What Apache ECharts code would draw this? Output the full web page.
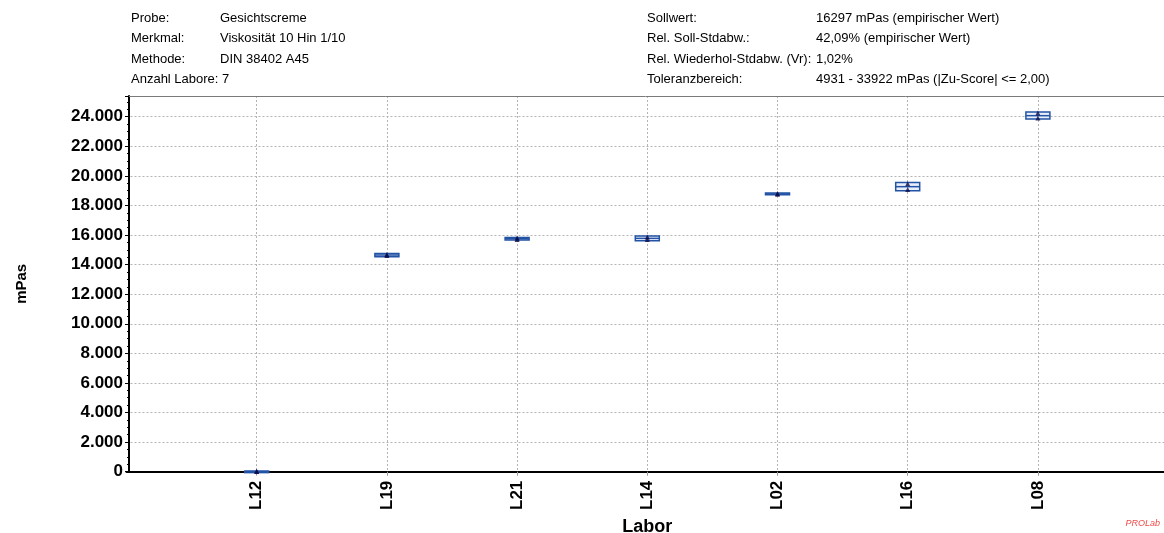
<!DOCTYPE html>
<html>
<head>
<meta charset="utf-8">
<title>Gesichtscreme – Viskosität</title>
<script src="https://cdn.jsdelivr.net/npm/echarts@6/dist/echarts.min.js"></script>
<style>
  html, body { margin: 0; padding: 0; background: #ffffff; }
  #chart { width: 1164px; height: 533px; }
</style>
</head>
<body>
<div id="chart"></div>
<script>
// Laboratories in plotting order
const labore = ['L12', 'L19', 'L21', 'L14', 'L02', 'L16', 'L08'];
// Box extent (lower / upper) and laboratory mean, mPas
const boxUnten = [0, 14540, 15660, 15620, 18720, 19000, 23850];
const boxOben = [40, 14760, 15840, 15930, 18840, 19560, 24310];
const mittelwert = [20, 14650, 15750, 15775, 18780, 19270, 24070];
// Individual replicate measurements, mPas
const messung1 = [10, 14610, 15700, 15690, 18750, 19080, 23910];
const messung2 = [30, 14690, 15800, 15860, 18810, 19470, 24250];
// Y axis ticks
const yTicks = [0, 2000, 4000, 6000, 8000, 10000, 12000, 14000, 16000, 18000, 20000, 22000, 24000];

// Header block
const kopfLinks = [
  ['Probe:', 'Gesichtscreme'],
  ['Merkmal:', 'Viskosität 10 Hin 1/10'],
  ['Methode:', 'DIN 38402 A45'],
  ['Anzahl Labore: 7', '']
];
const kopfRechts = [
  ['Sollwert:', '16297 mPas (empirischer Wert)'],
  ['Rel. Soll-Stdabw.:', '42,09% (empirischer Wert)'],
  ['Rel. Wiederhol-Stdabw. (Vr):', '1,02%'],
  ['Toleranzbereich:', '4931 - 33922 mPas (|Zu-Score| <= 2,00)']
];

const FONT = '"Liberation Sans", Arial, Helvetica, sans-serif';
const kategorien = [''].concat(labore, ['']);

function tausender(v) {
  return String(v).replace(/\B(?=(\d{3})+(?!\d))/g, '.');
}

const boxDaten = labore.map((l, i) => [i + 1, boxUnten[i], boxOben[i], mittelwert[i]]);
const punktDaten = [];
labore.forEach((l, i) => {
  punktDaten.push([i + 1, messung1[i]]);
  punktDaten.push([i + 1, messung2[i]]);
});

const graphics = [];
kopfLinks.forEach((z, i) => {
  const y = 18.3 + i * 20.5;
  graphics.push({ type: 'text', x: 131, y: y, style: { text: z[0], font: '13px ' + FONT, fill: '#000', verticalAlign: 'middle' } });
  if (z[1]) graphics.push({ type: 'text', x: 220, y: y, style: { text: z[1], font: '13px ' + FONT, fill: '#000', verticalAlign: 'middle' } });
});
kopfRechts.forEach((z, i) => {
  const y = 18.3 + i * 20.5;
  graphics.push({ type: 'text', x: 647, y: y, style: { text: z[0], font: '13px ' + FONT, fill: '#000', verticalAlign: 'middle' } });
  graphics.push({ type: 'text', x: 816, y: y, style: { text: z[1], font: '13px ' + FONT, fill: '#000', verticalAlign: 'middle' } });
});
graphics.push({ type: 'text', x: 1160, y: 523.5, style: { text: 'PROLab', font: 'italic 9px ' + FONT, fill: '#f04848', align: 'right', verticalAlign: 'middle' } });

const gitter = { type: [2, 2], color: '#b4b4b4', width: 1 };

const chart = echarts.init(document.getElementById('chart'), null, { renderer: 'canvas' });
chart.setOption({
  backgroundColor: '#ffffff',
  animation: false,
  textStyle: { fontFamily: FONT },
  graphic: graphics,
  grid: { left: 126.5, right: -4.1, top: 96, bottom: 61.3, containLabel: false, outerBoundsMode: 'none' },
  xAxis: [{
    type: 'category',
    data: kategorien,
    boundaryGap: false,
    offset: 2,
    name: 'Labor',
    nameLocation: 'middle',
    nameGap: 38,
    nameTextStyle: { fontFamily: FONT, fontWeight: 'bold', fontSize: 18, color: '#000' },
    axisLine: { lineStyle: { color: '#000', width: 2 } },
    axisTick: { show: true, length: 4, interval: (i) => i > 0 && i < kategorien.length - 1, lineStyle: { color: '#999' } },
    axisLabel: { rotate: 90, margin: 7, fontFamily: FONT, fontWeight: 'bold', fontSize: 17, color: '#000', interval: 0 },
    splitLine: { show: true, interval: (i) => i > 0 && i < kategorien.length - 1, lineStyle: gitter }
  }, {
    type: 'category',
    data: kategorien,
    boundaryGap: false,
    position: 'top',
    axisLine: { lineStyle: { color: '#7a7a7a', width: 1 } },
    axisTick: { show: false },
    axisLabel: { show: false },
    splitLine: { show: false }
  }],
  yAxis: {
    type: 'value',
    min: yTicks[0],
    max: 25400,
    interval: yTicks[1] - yTicks[0],
    offset: -2.5,
    name: 'mPas',
    nameLocation: 'middle',
    nameGap: 100,
    nameTextStyle: { fontFamily: FONT, fontWeight: 'bold', fontSize: 15, color: '#000' },
    axisLine: { show: true, onZero: false, lineStyle: { color: '#000', width: 2 } },
    axisTick: { show: true, length: 4, lineStyle: { color: '#000' } },
    minorTick: { show: true, splitNumber: 4, length: 2, lineStyle: { color: '#000' } },
    axisLabel: {
      margin: 6, fontFamily: FONT, fontWeight: 'bold', fontSize: 17, color: '#000',
      showMaxLabel: false,
      formatter: (v) => yTicks.indexOf(v) >= 0 ? tausender(v) : ''
    },
    splitLine: { show: true, lineStyle: gitter }
  },
  series: [{
    type: 'custom',
    name: 'Box',
    data: boxDaten,
    encode: { x: 0, y: [1, 2, 3] },
    renderItem: function (params, api) {
      const x = api.value(0);
      const unten = api.coord([x, api.value(1)]);
      const oben = api.coord([x, api.value(2)]);
      const mitte = api.coord([x, api.value(3)]);
      const b = 24;
      const h = Math.max(unten[1] - oben[1], 1.5);
      return {
        type: 'group',
        children: [{
          type: 'rect',
          shape: { x: unten[0] - b / 2, y: oben[1], width: b, height: h },
          style: { fill: '#e8effb', stroke: '#2353a5', lineWidth: 1.5 }
        }, {
          type: 'line',
          shape: { x1: mitte[0] - b / 2, y1: mitte[1], x2: mitte[0] + b / 2, y2: mitte[1] },
          style: { stroke: '#2353a5', lineWidth: 1.5 }
        }]
      };
    },
    z: 3
  }, {
    type: 'scatter',
    name: 'Messwerte',
    data: punktDaten,
    symbol: 'triangle',
    symbolSize: [5, 5],
    itemStyle: { color: '#0a0a4a' },
    z: 4
  }]
});
</script>
</body>
</html>
